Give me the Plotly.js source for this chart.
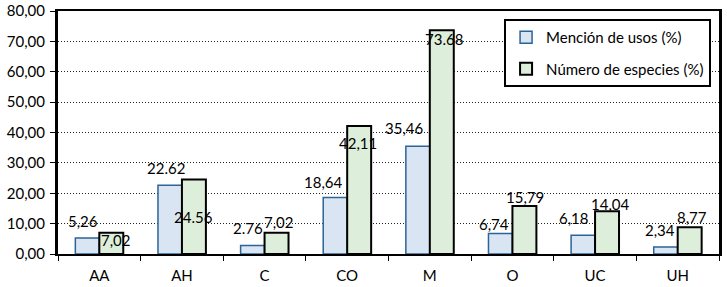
<!DOCTYPE html>
<html><head><meta charset="utf-8">
<script src="https://cdn.plot.ly/plotly-3.0.1.min.js"></script>
<style>html,body{margin:0;padding:0;background:#fff}#chart{width:727px;height:287px}</style>
</head><body><div id="chart"></div>
<script>
const categories = ['AA','AH','C','CO','M','O','UC','UH'];
const usos = [5.26, 22.62, 2.76, 18.64, 35.46, 6.74, 6.18, 2.34];
const especies = [7.02, 24.56, 7.02, 42.11, 73.68, 15.79, 14.04, 8.77];
const usosLabels = ['5,26','22.62','2.76','18,64','35,46','6,74','6,18','2,34'];
const especiesLabels = ['7,02','24.56','7,02','42,11','73.68','15,79','14,04','8,77'];
const yTickVals = [0,10,20,30,40,50,60,70,80];
const yTickText = ['0,00','10,00','20,00','30,00','40,00','50,00','60,00','70,00','80,00'];

// label offsets (pixels) relative to category centre / bar top
const usosOff = [[-16,17],[-16,17],[-17,18],[-24,15],[-25,18],[-18,10],[-21,17],[-18,17]];
const espOff = [[17,-7],[12,-38],[14,11],[11,-17],[14,-9],[13,9],[15,7],[14,10]];

const FONT = 'Lato, "Open Sans", sans-serif';
const TXT = '#000';

const traces = [
  {type:'bar', name:'Mención de usos (%)', x:categories, y:usos, legendgroup:'a',
   marker:{color:'#d9e5f3', line:{color:'#2c6496', width:1.5}}, hoverinfo:'none'},
  {type:'bar', name:'Número de especies (%)', x:categories, y:especies, legendgroup:'b',
   marker:{color:'#ddefda', line:{color:'#000', width:2}}, hoverinfo:'none'}
];

const annotations = [];
categories.forEach((c,i)=>{
  annotations.push({x:c, y:usos[i], text:usosLabels[i], showarrow:false, xanchor:'center', yanchor:'middle',
    xshift:usosOff[i][0], yshift:usosOff[i][1], font:{family:FONT,size:15,color:TXT}});
  annotations.push({x:c, y:especies[i], text:especiesLabels[i], showarrow:false, xanchor:'center', yanchor:'middle',
    xshift:espOff[i][0], yshift:espOff[i][1], font:{family:FONT,size:15,color:TXT}});
});

const layout = {
  width:727, height:287,
  margin:{l:58, r:8, t:11, b:33},
  paper_bgcolor:'#fff', plot_bgcolor:'#fff',
  barmode:'group', bargap:0.42, bargroupgap:0,
  font:{family:FONT, size:14, color:TXT},
  showlegend:true,
  legend:{x:0.988, xanchor:'right', y:0.967, yanchor:'top', bgcolor:'#fff',
    bordercolor:'#000', borderwidth:2, traceorder:'grouped', tracegroupgap:9,
    itemwidth:30, font:{family:FONT, size:15, color:TXT}},
  xaxis:{type:'category', showline:true, linecolor:'#000', linewidth:2, mirror:true,
    ticks:'outside', tickson:'boundaries', ticklen:5, tickcolor:'#000', tickwidth:1,
    ticklabelstandoff:7,
    showgrid:false, tickfont:{family:FONT,size:15,color:TXT}, fixedrange:true},
  yaxis:{range:[0,80], tickvals:yTickVals, ticktext:yTickText, showline:true, linecolor:'#000',
    linewidth:3, mirror:true, ticks:'outside', ticklen:5, tickcolor:'#000',
    ticklabelstandoff:2,
    showgrid:true, gridcolor:'#222', griddash:'1px,2px', gridwidth:1, zeroline:false,
    tickfont:{family:FONT,size:15,color:TXT}, fixedrange:true},
  annotations:annotations
};

Plotly.newPlot('chart', traces, layout, {displayModeBar:false, staticPlot:true});
</script></body></html>
